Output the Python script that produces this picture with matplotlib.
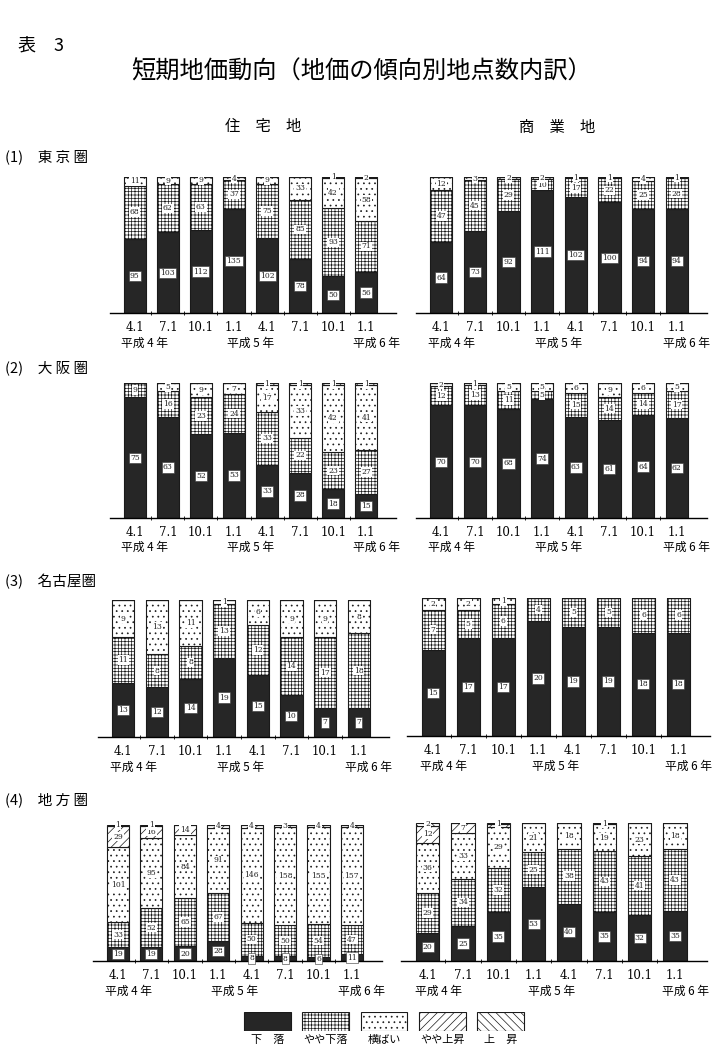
import matplotlib
matplotlib.use('Agg')
import matplotlib.pyplot as plt
import numpy as np

plt.rcParams['font.family'] = ['Noto Sans CJK JP', 'DejaVu Sans']
plt.rcParams['hatch.linewidth'] = 0.5

# categories (bottom to top)
categories = ['下　落', 'やや下落', '横ばい', 'やや上昇', '上　昇']
periods = ['4.1', '7.1', '10.1', '1.1', '4.1', '7.1', '10.1', '1.1']
years = ['平成 4 年', '平成 5 年', '平成 6 年']

# number of points per category, one row per category
tokyo_res = [[95, 103, 112, 135, 102, 78, 50, 56],
             [68, 62, 63, 37, 75, 85, 93, 71],
             [11, 9, 9, 4, 9, 33, 42, 58],
             [0, 0, 0, 0, 0, 0, 1, 2],
             [0, 0, 0, 0, 0, 0, 0, 0]]
tokyo_com = [[64, 73, 92, 111, 102, 100, 94, 94],
             [47, 45, 29, 10, 17, 22, 25, 28],
             [12, 3, 2, 2, 1, 1, 4, 1],
             [0, 0, 0, 0, 0, 0, 0, 0],
             [0, 0, 0, 0, 0, 0, 0, 0]]
osaka_res = [[75, 63, 52, 53, 33, 28, 18, 15],
             [9, 16, 23, 24, 33, 22, 23, 27],
             [0, 5, 9, 7, 17, 33, 42, 41],
             [0, 0, 0, 0, 1, 1, 1, 1],
             [0, 0, 0, 0, 0, 0, 0, 0]]
osaka_com = [[70, 70, 68, 74, 63, 61, 64, 62],
             [12, 13, 11, 5, 15, 14, 14, 17],
             [2, 1, 5, 5, 6, 9, 6, 5],
             [0, 0, 0, 0, 0, 0, 0, 0],
             [0, 0, 0, 0, 0, 0, 0, 0]]
nagoya_res = [[13, 12, 14, 19, 15, 10, 7, 7],
              [11, 8, 8, 13, 12, 14, 17, 18],
              [9, 13, 11, 1, 6, 9, 9, 8],
              [0, 0, 0, 0, 0, 0, 0, 0],
              [0, 0, 0, 0, 0, 0, 0, 0]]
nagoya_com = [[15, 17, 17, 20, 19, 19, 18, 18],
              [7, 5, 6, 4, 5, 5, 6, 6],
              [2, 2, 1, 0, 0, 0, 0, 0],
              [0, 0, 0, 0, 0, 0, 0, 0],
              [0, 0, 0, 0, 0, 0, 0, 0]]
chiho_res = [[19, 19, 20, 28, 8, 8, 6, 11],
             [33, 52, 65, 67, 50, 50, 54, 47],
             [101, 95, 84, 91, 146, 158, 155, 157],
             [29, 16, 14, 4, 4, 3, 4, 4],
             [1, 1, 0, 0, 0, 0, 0, 0]]
chiho_com = [[20, 25, 35, 53, 40, 35, 32, 35],
             [29, 34, 32, 25, 38, 43, 41, 43],
             [36, 33, 29, 21, 18, 19, 23, 18],
             [12, 7, 2, 0, 0, 1, 0, 0],
             [2, 0, 1, 0, 0, 0, 0, 0]]

fills = ['#262626', 'white', 'white', 'white', 'white']
hatches = [None, '+++++', '...', '////', '\\\\\\\\']

W, H = 717, 1063
fig = plt.figure(figsize=(W / 100, H / 100), dpi=100)


def px_axes(x0, x1, top, bottom):
    return fig.add_axes([x0 / W, 1 - bottom / H, (x1 - x0) / W, (bottom - top) / H])


def draw_panel(data, x0, x1, top, bottom):
    ax = px_axes(x0, x1, top, bottom)
    vals = np.array(data, dtype=float)
    pct = vals / vals.sum(axis=0) * 100
    x = np.arange(len(periods))
    base = np.zeros(len(periods))
    for k in range(len(categories)):
        ax.bar(x, pct[k], 0.66, bottom=base, color=fills[k], hatch=hatches[k],
               edgecolor='#1a1a1a', linewidth=0.8)
        for i in range(len(periods)):
            if vals[k, i] > 0:
                y = base[i] + pct[k, i] / 2
                if k == 0:
                    box = dict(boxstyle='square,pad=0.15', fc='white', ec='#333', lw=0.4)
                else:
                    box = dict(boxstyle='square,pad=0.1', fc='white', ec='none')
                ax.text(i, y, str(int(vals[k, i])), ha='center', va='center',
                        fontsize=5.5, color='#222', bbox=box, family='DejaVu Serif')
        base += pct[k]
    ax.set_xlim(-0.75, 7.9)
    ax.set_ylim(0, 100)
    for s in ['top', 'left', 'right']:
        ax.spines[s].set_visible(False)
    ax.spines['bottom'].set_linewidth(1.0)
    ax.set_yticks([])
    ax.set_xticks(x)
    ax.set_xticklabels(periods, fontsize=8.5, family='DejaVu Serif')
    ax.tick_params(axis='x', length=0, pad=6)
    ax.set_xticks(x[:-1] + 0.5, minor=True)
    ax.tick_params(axis='x', which='minor', length=3, direction='inout')
    ax.set_facecolor('none')
    trans = ax.get_xaxis_transform()
    for xp, lab in zip([0.3, 3.5, 7.3], years):
        ax.text(xp, -0.22, lab, transform=trans, ha='center', va='center', fontsize=8.5)
    return ax


# page texts
fig.text(18 / W, 1 - 45 / H, '表　3', fontsize=13, va='center')
fig.text(362 / W, 1 - 72 / H, '短期地価動向（地価の傾向別地点数内訳）', fontsize=17.5,
         ha='center', va='center')
fig.text(263 / W, 1 - 127 / H, '住　宅　地', fontsize=11, ha='center', va='center')
fig.text(557 / W, 1 - 127 / H, '商　業　地', fontsize=11, ha='center', va='center')
fig.text(5 / W, 1 - 157 / H, '(1)　東 京 圏', fontsize=10.5, va='center')
fig.text(5 / W, 1 - 368 / H, '(2)　大 阪 圏', fontsize=10.5, va='center')
fig.text(5 / W, 1 - 582 / H, '(3)　名古屋圏', fontsize=10.5, va='center')
fig.text(5 / W, 1 - 800 / H, '(4)　地 方 圏', fontsize=10.5, va='center')

draw_panel(tokyo_res, 110, 396, 177, 313)
draw_panel(tokyo_com, 416, 707, 177, 313)
draw_panel(osaka_res, 110, 396, 383, 518)
draw_panel(osaka_com, 416, 707, 383, 518)
draw_panel(nagoya_res, 98, 389, 600, 737)
draw_panel(nagoya_com, 407, 710, 598, 736)
draw_panel(chiho_res, 93, 382, 825, 961)
draw_panel(chiho_com, 401, 707, 823, 961)

# legend strip
lax = px_axes(238, 530, 1012, 1031)
lx = np.arange(len(categories))
for k in range(len(categories)):
    lax.bar(lx[k], 1, 0.8, color=fills[k], hatch=hatches[k], edgecolor='#1a1a1a', linewidth=0.8)
lax.set_xlim(-0.5, 4.5)
lax.set_ylim(0, 1)
lax.set_yticks([])
lax.set_xticks(lx)
lax.set_xticklabels(categories, fontsize=8)
lax.tick_params(axis='x', length=0, pad=3)
for s in lax.spines.values():
    s.set_visible(False)

fig.savefig('out.png', dpi=100, facecolor='white')
